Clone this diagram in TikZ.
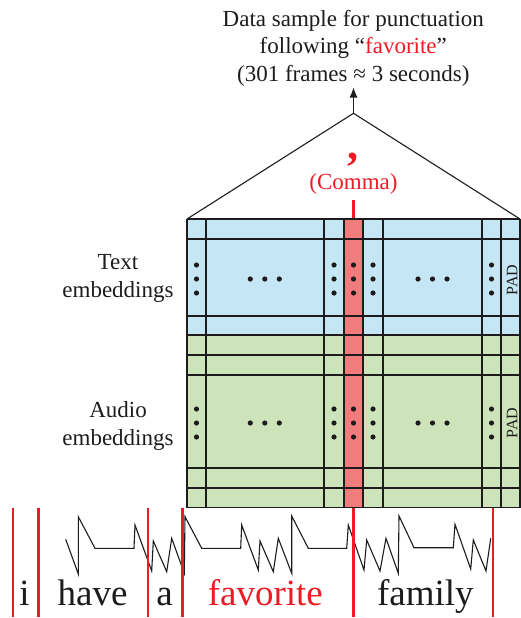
\documentclass[tikz,border=0pt]{standalone}
\usepackage{fontspec}
\setmainfont{Liberation Serif}
\usetikzlibrary{arrows.meta}
\definecolor{tblue}{RGB}{197,230,245}
\definecolor{tgreen}{RGB}{205,228,186}
\definecolor{tred}{RGB}{241,124,124}
\definecolor{lred}{RGB}{237,28,36}
\definecolor{ink}{RGB}{30,27,28}
\tikzset{
  gridline/.style={draw=ink, line width=1.4pt},
  thinline/.style={draw=ink, line width=1.1pt},
  redline/.style={draw=lred, line width=2.4pt},
  dotmark/.style={circle, fill=ink, inner sep=0pt, minimum size=5.2pt},
  midtext/.style={text=ink, align=center, font=\fontsize{23}{27.5}\selectfont},
  wordtext/.style={text=ink, anchor=base, font=\fontsize{37}{40}\selectfont},
  padtext/.style={text=ink, rotate=90, inner sep=0pt, font=\fontsize{16}{16}\selectfont}
}
\begin{document}
\begin{tikzpicture}[x=1pt,y=-1pt]
\useasboundingbox (0,0) rectangle (521,618);
% title
\node[midtext] (title) at (353.3,48) {Data sample for punctuation\\following “\textcolor{lred}{favorite}”\\(301 frames ≈ 3 seconds)};
% triangle and arrow
\coordinate (apex) at (353.5,113.3);
\coordinate (tip) at (353.5,87.5);
\coordinate (bl) at (187,219);
\coordinate (br) at (520,219);
\draw[thinline] (bl) -- (apex) -- (br);
\draw[thinline, -{Latex[length=10pt,width=8pt]}] (apex) -- (tip);
% comma labels
\node[text=lred, font=\fontsize{44}{44}\selectfont\bfseries] (comma) at (352.5,160) {,};
\node[text=lred, font=\fontsize{23}{27}\selectfont] (commalbl) at (353.5,184) {(Comma)};
\coordinate (ctop) at (353.5,200);
\coordinate (cbot) at (353.5,219);
\draw[redline] (ctop) -- (cbot);
% grid fills
\fill[tblue] (187,219) rectangle (520,335);
\fill[tgreen] (187,335) rectangle (520,507.5);
\fill[tred] (344,219) rectangle (363,507.5);
% grid lines
\foreach \y in {219,239,316,335,355,375,468,488,507.5}
  \draw[gridline] (187,\y) -- (520,\y);
\foreach \x in {187,206,324,344,363,383,482,501,520}
  \draw[gridline] (\x,219) -- (\x,507.5);
% dots
\foreach \yc in {279,423} {
  \foreach \x in {196.5,334,353.5,373,491.5}
    \foreach \dy in {-14,0,14}
      \node[dotmark] at (\x,\yc+\dy) {};
  \foreach \x in {250.3,264.8,279.3,418,432.5,447}
    \node[dotmark] at (\x,\yc) {};
}
\node[padtext] (pad1) at (512,280) {PAD};
\node[padtext] (pad2) at (512,423) {PAD};
% side labels
\node[midtext, font=\fontsize{23}{28}\selectfont] (textemb) at (118,278) {Text\\embeddings};
\node[midtext, font=\fontsize{23}{28}\selectfont] (audemb) at (118,425.5) {Audio\\embeddings};
% waveform
\draw[thinline] (65.7,539.3) -- (78.3,574) -- (78.3,516.7) -- (95,548.3) -- (134,548.3) -- (135,525) -- (151.7,571) -- (153.3,541) -- (166.7,571.7) -- (171.7,538.3) -- (184.3,573.3) -- (185,516.7) -- (201.7,548.3) -- (240.7,548.3) -- (241.7,525) -- (258.3,570) -- (260,541) -- (273.3,571.7) -- (278.3,538.3) -- (291.7,573.3) -- (291.7,516) -- (308.3,548.3) -- (346.7,548.3) -- (348.3,525) -- (364,570) -- (366.7,540) -- (380,571) -- (386,538.3) -- (398.3,573.3) -- (399,516) -- (414,547.7) -- (453.3,547.7) -- (455,524.3) -- (470.7,569) -- (473.3,540) -- (486,571) -- (490.7,538.3);
% word boundaries
\foreach \x in {13,38.5,148,182.5,353.5,493}
  \draw[redline] (\x,508) -- (\x,617);
% words
\node[wordtext] (wi) at (24.5,605) {i};
\node[wordtext] (whave) at (92.5,605) {have};
\node[wordtext] (wa) at (164.7,605) {a};
\node[wordtext, text=lred] (wfav) at (265.3,605) {favorite};
\node[wordtext] (wfam) at (425.3,605) {family};
\end{tikzpicture}
\end{document}
